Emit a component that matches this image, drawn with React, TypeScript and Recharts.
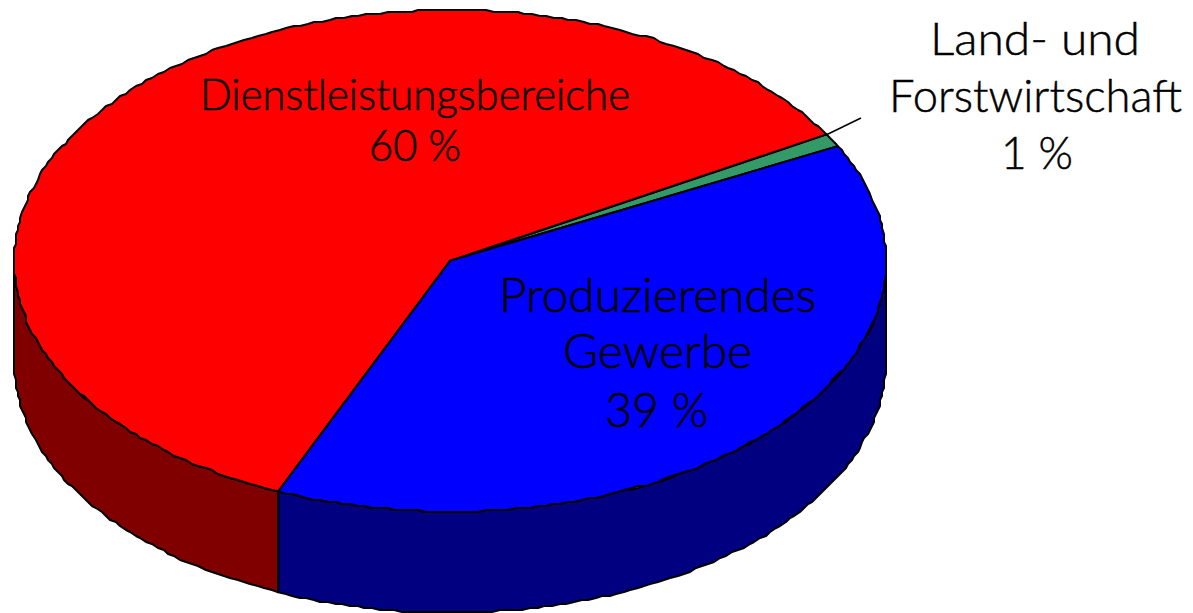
import React from "react";
import { PieChart, Pie, Cell } from "recharts";

const sectors = ["Land- und Forstwirtschaft", "Dienstleistungsbereiche", "Produzierendes Gewerbe"];
const shares = [0.85, 60.15, 39];
const topColors = ["#339966", "#ff0000", "#0000ff"];
const sideColors = ["#1a4d33", "#800000", "#000080"];
const labelLines = [
  ["Land- und", "Forstwirtschaft", "1 %"],
  ["Dienstleistungsbereiche", "60 %"],
  ["Produzierendes", "Gewerbe", "39 %"],
];
const tableData = sectors.map((name, i) => ({ name, value: shares[i] }));

const SQUASH = 250.8 / 436;
const DEPTH = 101;
const FONT = "Lato, 'Open Sans', sans-serif";
const labelCenterX = [
  [1035, 1035.5, 1037],
  [415, 415],
  [657.5, 657.5, 656.5],
];
const labelBaselines = [
  [55, 112, 169],
  [110, 161],
  [312, 368, 427],
];
const labelWidths = [
  [210, 293, 72],
  [430, 92],
  [317, 189, 103],
];
const labelFontSizes = [46, 43, 46.5];

const rad = (d: number) => (d * Math.PI) / 180;
const GRID = 2;
const STEP = 1;

function Slice3D(props: any) {
  const { cx, cy, outerRadius: rx, startAngle, endAngle, index } = props;
  const lo = Math.min(startAngle, endAngle);
  const hi = Math.max(startAngle, endAngle);
  const ry = rx * SQUASH;
  const pt = (a: number, dy = 0) => [cx + rx * Math.cos(rad(a)), cy - ry * Math.sin(rad(a)) + dy];
  const snap = (v: number) => Math.round(v / GRID) * GRID;
  const arc = (a: number, b: number, dy = 0) => {
    const out: string[] = [];
    const n = Math.max(1, Math.ceil(Math.abs(b - a) / STEP));
    for (let i = 0; i <= n; i++) {
      const [x, y] = pt(a + ((b - a) * i) / n, dy);
      const edge = i === 0 || i === n;
      out.push(edge ? `${x},${y}` : `${snap(x)},${snap(y)}`);
    }
    return out;
  };
  const top = `M${cx},${cy}L${arc(lo, hi).join("L")}Z`;
  let wall: string | null = null;
  for (const k of [0, 360]) {
    const a = Math.max(lo, 180 + k);
    const b = Math.min(hi, 360 + k);
    if (b > a) {
      wall = `M${arc(a, b).join("L")}L${arc(b, a, DEPTH).join("L")}Z`;
    }
  }
  const idx = index ?? sectors.indexOf(props.name);
  return (
    <g>
      {wall && <path d={wall} fill={sideColors[idx]} stroke="#000" strokeWidth={2} strokeLinejoin="round" />}
      <path d={top} fill={topColors[idx]} stroke="#000" strokeWidth={2} strokeLinejoin="round" />
    </g>
  );
}

function SliceLabel(props: any) {
  const idx = props.index;
  return (
    <g>
      {idx === 0 && <line x1={826} y1={135} x2={861} y2={118} stroke="#000" strokeWidth={1.5} />}
      {labelLines[idx].map((t, i) => (
        <text
          key={t}
          x={labelCenterX[idx][i]}
          y={labelBaselines[idx][i]}
          textAnchor="middle"
          fontFamily={FONT}
          fontWeight={300}
          fontSize={labelFontSizes[idx]}
          textLength={labelWidths[idx][i]}
          lengthAdjust="spacingAndGlyphs"
          fill="#000"
          stroke="#000"
          strokeWidth={0.5}
        >
          {t}
        </text>
      ))}
    </g>
  );
}

export default function App() {
  return (
    <div style={{ position: "absolute", left: 0, top: 0, width: 1193, height: 613, background: "#fff" }}>
      <PieChart width={1193} height={613} margin={{ top: 0, right: 0, bottom: 0, left: 0 }}>
        <Pie
          data={tableData}
          dataKey="value"
          nameKey="name"
          cx={450}
          cy={260.8}
          innerRadius={0}
          outerRadius={436}
          startAngle={27.2}
          endAngle={387.2}
          isAnimationActive={false}
          shape={Slice3D}
          inactiveShape={Slice3D}
          activeShape={Slice3D}
          label={SliceLabel}
          labelLine={false}
        >
          {sectors.map((s, i) => (
            <Cell key={s} fill={topColors[i]} />
          ))}
        </Pie>
      </PieChart>
    </div>
  );
}
